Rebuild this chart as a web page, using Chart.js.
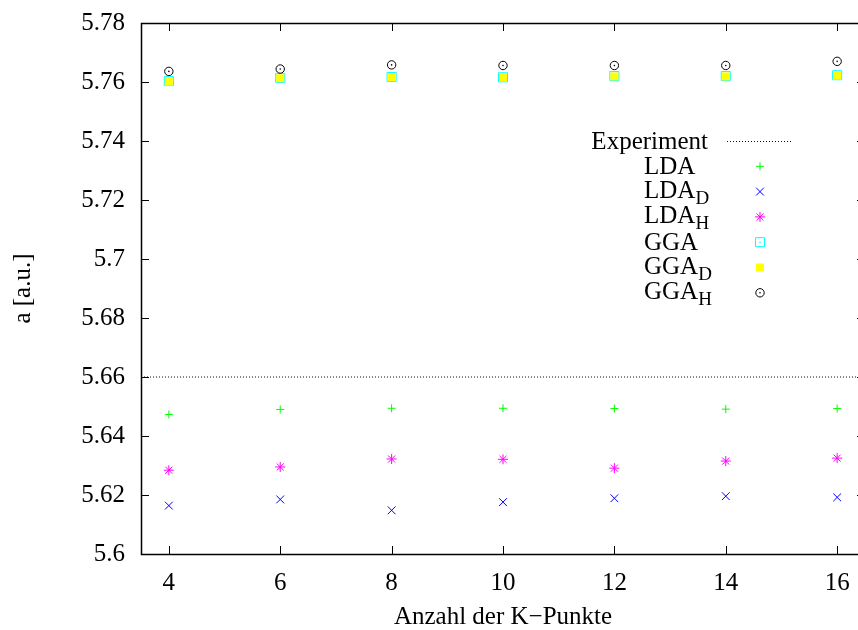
<!DOCTYPE html>
<html>
<head>
<meta charset="utf-8">
<script src="https://cdn.jsdelivr.net/npm/chart.js@4.4.0/dist/chart.umd.min.js"></script>
<style>
  html, body { margin: 0; padding: 0; background: #fff; overflow: hidden; }
  .wrap { width: 858px; height: 630px; overflow: hidden; }
</style>
</head>
<body>
<div class="wrap"><canvas id="lattice" width="880" height="630"></canvas></div>
<script>
// Gitterkonstante gegen Anzahl der K-Punkte
const kPoints = [4, 6, 8, 10, 12, 14, 16]
const experiment = 5.66
const lda  = [5.6473, 5.6490, 5.6494, 5.6494, 5.6493, 5.6491, 5.6493]
const ldaD = [5.6164, 5.6185, 5.6148, 5.6176, 5.6189, 5.6196, 5.6192]
const ldaH = [5.6284, 5.6295, 5.6322, 5.6321, 5.6291, 5.6315, 5.6325]
const gga  = [5.7603, 5.7614, 5.7617, 5.7616, 5.7620, 5.7620, 5.7623]
const ggaD = [5.7601, 5.7613, 5.7616, 5.7615, 5.7619, 5.7619, 5.7622]
const ggaH = [5.7636, 5.7644, 5.7658, 5.7656, 5.7656, 5.7656, 5.7670]
const xTicks = [4, 6, 8, 10, 12, 14, 16]
const yTicks = [5.6, 5.62, 5.64, 5.66, 5.68, 5.7, 5.72, 5.74, 5.76, 5.78]
const xMin = 3.5, xMax = 16.5

const serif = "'Liberation Serif', 'Times New Roman', serif"
Chart.defaults.font.family = serif
Chart.defaults.font.size = 25
Chart.defaults.color = '#000'

const pts = arr => arr.map((v, i) => ({x: kPoints[i], y: v}))

function centerDot(ctx, color, x, y) {
    ctx.fillStyle = color
    ctx.beginPath()
    ctx.arc(x, y, 0.8, 0, Math.PI * 2)
    ctx.fill()
}

// Punkt in der Mitte von offenen Quadraten und Kreisen
const dotMarks = {
    id: 'dotMarks',
    afterDatasetDraw(chart, args) {
        const ds = chart.data.datasets[args.index]
        if (!ds.dot) return
        const ctx = chart.ctx
        ctx.save()
        args.meta.data.forEach(p => centerDot(ctx, ds.borderColor, p.x, p.y))
        ctx.restore()
    }
}

// Rahmen mit nach innen zeigenden Ticks
const frameTicks = {
    id: 'frameTicks',
    afterDatasetsDraw(chart) {
        const {ctx, chartArea: a, scales: {x, y}} = chart
        ctx.save()
        ctx.strokeStyle = '#000'
        ctx.lineWidth = 1
        ctx.beginPath()
        x.ticks.forEach(t => {
            const px = Math.round(x.getPixelForValue(t.value)) + 0.5
            ctx.moveTo(px, a.bottom); ctx.lineTo(px, a.bottom - 8)
            ctx.moveTo(px, a.top); ctx.lineTo(px, a.top + 8)
        })
        y.ticks.forEach(t => {
            const py = Math.round(y.getPixelForValue(t.value)) + 0.5
            ctx.moveTo(a.left, py); ctx.lineTo(a.left + 8, py)
            ctx.moveTo(a.right, py); ctx.lineTo(a.right - 8, py)
        })
        ctx.stroke()
        ctx.lineWidth = 1.5
        ctx.strokeRect(Math.round(a.left) + 0.5, Math.round(a.top) + 0.5,
            Math.round(a.right - a.left), Math.round(a.bottom - a.top))
        ctx.restore()
    }
}

// Legende mit tiefgestellten Indizes (LDA_D -> LDA mit D als Index)
const keyBox = {
    id: 'keyBox',
    afterDraw(chart) {
        const ctx = chart.ctx
        ctx.save()
        chart.data.datasets.forEach((ds, i) => {
            const rowY = 141 + i * 25.3
            const [main, sub] = ds.label.split('_')
            const base = rowY + 8 - (sub ? 2 : 0)
            ctx.fillStyle = '#000'
            ctx.textBaseline = 'alphabetic'
            ctx.font = '25px ' + serif
            if (ds.showLine) {
                ctx.textAlign = 'right'
                ctx.fillText(main, 708, base)
                ctx.strokeStyle = ds.borderColor
                ctx.lineWidth = 1
                ctx.setLineDash(ds.borderDash)
                ctx.beginPath()
                ctx.moveTo(727, Math.round(rowY) + 0.5)
                ctx.lineTo(793, Math.round(rowY) + 0.5)
                ctx.stroke()
                ctx.setLineDash([])
            } else {
                ctx.textAlign = 'left'
                ctx.fillText(main, 644, base)
                if (sub) {
                    const w = ctx.measureText(main).width
                    ctx.font = '19px ' + serif
                    ctx.fillText(sub, 644 + w, base + 6)
                }
                ctx.fillStyle = ds.backgroundColor
                ctx.strokeStyle = ds.borderColor
                ctx.lineWidth = ds.borderWidth
                Chart.helpers.drawPoint(ctx, {
                    pointStyle: ds.pointStyle, radius: ds.pointRadius,
                    rotation: 0, borderWidth: ds.borderWidth
                }, 760, rowY)
                if (ds.dot) centerDot(ctx, ds.borderColor, 760, rowY)
            }
        })
        ctx.restore()
    }
}

const symbolSet = (label, data, style, color, radius, order, extra) => Object.assign({
    label, data: pts(data), showLine: false,
    pointStyle: style, pointRadius: radius, pointHoverRadius: radius,
    borderColor: color, backgroundColor: color, borderWidth: 1, order
}, extra)

const latticeChart = new Chart(document.getElementById('lattice').getContext('2d'), {
    type: 'scatter',
    data: {
        datasets: [
            {
                label: 'Experiment',
                data: [{x: xMin, y: experiment}, {x: xMax, y: experiment}],
                showLine: true, pointRadius: 0, borderColor: '#111',
                backgroundColor: '#111', borderWidth: 1, borderDash: [1, 2], order: 7
            },
            symbolSet('LDA', lda, 'cross', '#00ff00', 4, 6),
            symbolSet('LDA_D', ldaD, 'crossRot', '#0000ff', 5.5, 5),
            symbolSet('LDA_H', ldaH, 'star', '#ff00ff', 5, 4),
            symbolSet('GGA', gga, 'rect', '#00ffff', 6.4, 3,
                {backgroundColor: 'rgba(0,0,0,0)', dot: true}),
            symbolSet('GGA_D', ggaD, 'rect', '#ffff00', 5.66, 2, {borderWidth: 0}),
            symbolSet('GGA_H', ggaH, 'circle', '#000000', 4.2, 1,
                {backgroundColor: 'rgba(0,0,0,0)', dot: true})
        ]
    },
    options: {
        responsive: false,
        animation: false,
        devicePixelRatio: 1,
        layout: {padding: {left: 0, right: 15, top: 23, bottom: 0}},
        plugins: {legend: {display: false}, tooltip: {enabled: false}},
        scales: {
            x: {
                type: 'linear', min: xMin, max: xMax,
                grid: {display: false, drawTicks: false}, border: {display: false},
                afterBuildTicks: s => { s.ticks = xTicks.map(v => ({value: v})) },
                afterFit: s => { s.height = 76; s.paddingLeft = 0; s.paddingRight = 0 },
                ticks: {padding: 14, maxRotation: 0, callback: v => String(v)},
                title: {display: true, text: 'Anzahl der K−Punkte', padding: {top: 0, bottom: -2}}
            },
            y: {
                min: 5.6, max: 5.78,
                grid: {display: false, drawTicks: false}, border: {display: false},
                afterBuildTicks: s => { s.ticks = yTicks.map(v => ({value: v})) },
                afterFit: s => { s.width = 141; s.paddingTop = 0; s.paddingBottom = 0 },
                ticks: {padding: 16, callback: v => String(+v.toFixed(2))},
                title: {display: true, text: 'a [a.u.]', padding: {top: 8, bottom: 0}}
            }
        }
    },
    plugins: [dotMarks, frameTicks, keyBox]
})
</script>
</body>
</html>
